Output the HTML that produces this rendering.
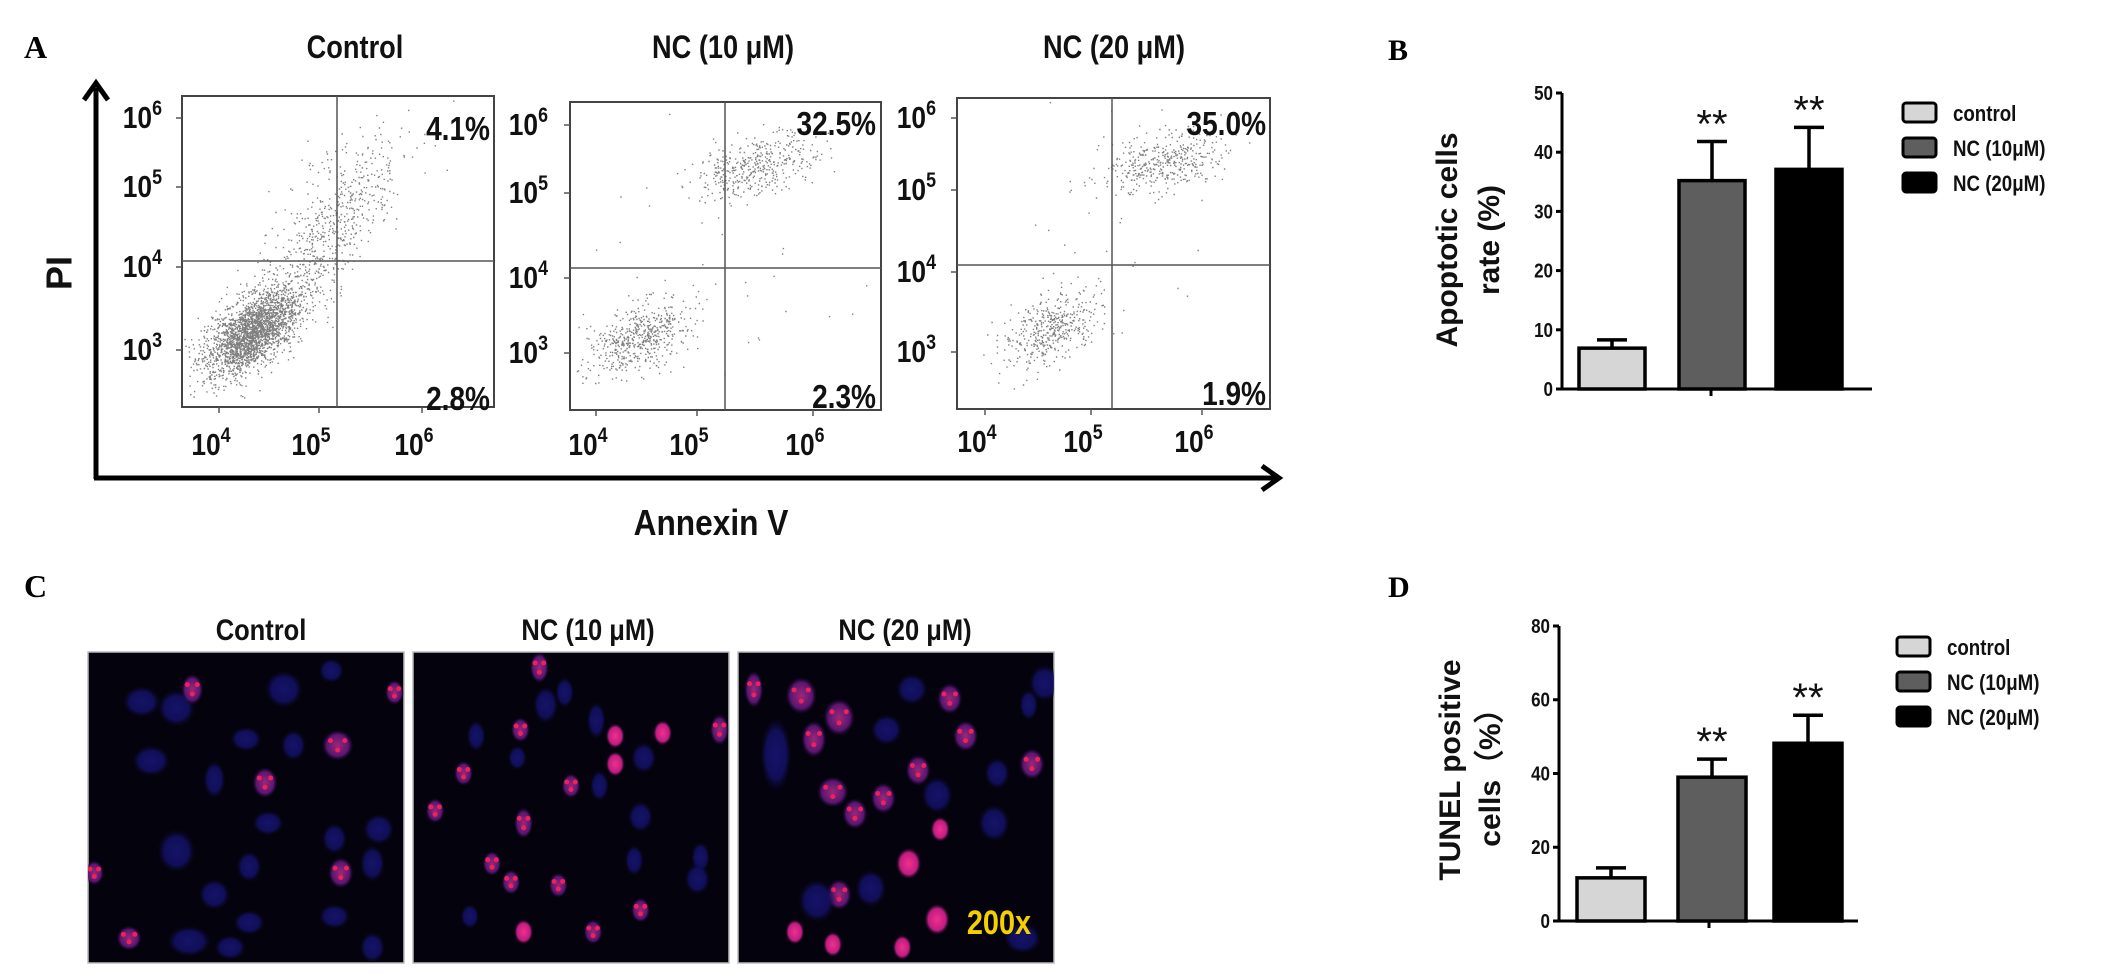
<!DOCTYPE html>
<html><head><meta charset="utf-8"><style>
html,body{margin:0;padding:0;background:#fff;}
svg{display:block;}
.t{font-family:"Liberation Sans",Arial,sans-serif;font-weight:bold;fill:#111;}
.s{font-family:"Liberation Serif",serif;font-weight:bold;fill:#000;}
</style></head><body>
<svg id="fig" width="2126" height="977" viewBox="0 0 2126 977" xmlns="http://www.w3.org/2000/svg">
<defs>
<radialGradient id="gb"><stop offset="0" stop-color="#19167a"/><stop offset="0.65" stop-color="#131165"/><stop offset="1" stop-color="#0a0830" stop-opacity="0"/></radialGradient>
<radialGradient id="gp"><stop offset="0" stop-color="#9a2878"/><stop offset="0.7" stop-color="#5a1670"/><stop offset="1" stop-color="#200840" stop-opacity="0"/></radialGradient>
<radialGradient id="gh"><stop offset="0" stop-color="#f0308e"/><stop offset="0.7" stop-color="#c01c80"/><stop offset="1" stop-color="#401048" stop-opacity="0"/></radialGradient>
</defs>
<g id="panelA">
<text class="s" x="24" y="58" font-size="32">A</text>
<line x1="96" y1="88" x2="96" y2="479" stroke="#000" stroke-width="5"/>
<path d="M84 100 L96 83 L108 100" fill="none" stroke="#000" stroke-width="5"/>
<line x1="94" y1="478" x2="1275" y2="478" stroke="#000" stroke-width="5"/>
<path d="M1262 466 L1279 478 L1262 490" fill="none" stroke="#000" stroke-width="5"/>
<text class="t" x="62" y="273" font-size="36" text-anchor="middle" transform="rotate(-90 62 273)" dominant-baseline="middle">PI</text>
<text class="t" x="711" y="535" font-size="36" text-anchor="middle" transform="translate(711 0) scale(0.88 1) translate(-711 0)">Annexin V</text>
<g id="flows"></g>
</g>
<g id="panelB">
<text class="s" x="1388" y="60" font-size="30">B</text>
</g>
<g id="panelC">
<text class="s" x="24" y="597" font-size="32">C</text>
</g>
<g id="panelD">
<text class="s" x="1388" y="597" font-size="30">D</text>
</g>
</svg>
<script>
// ---- Chart B data ----
const bGroups = ["control","NC (10\u03bcM)","NC (20\u03bcM)"];
const bValues = [6.9, 35.2, 37.1];
const bErrors = [1.4, 6.6, 7.1];
const bTicks = [0,10,20,30,40,50];
// ---- Chart D data ----
const dGroups = ["control","NC (10\u03bcM)","NC (20\u03bcM)"];
const dValues = [11.7, 39.0, 48.2];
const dErrors = [2.7, 4.9, 7.6];
const dTicks = [0,20,40,60,80];
// ---- Flow cytometry quadrant percentages ----
const flowTitles = ["Control","NC (10 \u03bcM)","NC (20 \u03bcM)"];
const flowUpperRight = ["4.1%","32.5%","35.0%"];
const flowLowerRight = ["2.8%","2.3%","1.9%"];
const flowTickLabels = ["4","5","6"];
const flowYTickLabels = ["6","5","4","3"];
const fillColors = ["#d6d6d6","#5e5e5e","#000000"];

const NS="http://www.w3.org/2000/svg";
function mk(tag,attrs,parent){const e=document.createElementNS(NS,tag);for(const k in attrs)e.setAttribute(k,attrs[k]);parent.appendChild(e);return e;}
function narrow(e,x,f){e.setAttribute('transform',`translate(${x} 0) scale(${f} 1) translate(${-x} 0)`);}

// ---- Flow plots ----
const flows=document.getElementById('flows');
const flowGeo=[
 {x0:182,x1:494,y0:96,y1:407,qx:337,qy:261,tx:355,ylx:176,yt:[118,187,267,350],xt:[219,319,422],xly:455,ur:[490,140],lr:[490,410],
  cl:[[0.22,0.76,0.075,0.07,2300,0.6],[0.4,0.55,0.1,0.14,500,0.7],[0.55,0.3,0.1,0.1,250,0.4]]},
 {x0:570,x1:881,y0:102,y1:410,qx:725,qy:268,tx:723,ylx:562,yt:[125,193,278,353],xt:[596,697,813],xly:455,ur:[876,135],lr:[876,408],
  cl:[[0.22,0.76,0.08,0.06,550,0.5],[0.6,0.21,0.1,0.05,420,0.4],[0.4,0.5,0.25,0.25,40,0]]},
 {x0:957,x1:1270,y0:98,y1:409,qx:1112,qy:265,tx:1114,ylx:950,yt:[118,190,272,352],xt:[985,1091,1202],xly:452,ur:[1266,135],lr:[1266,405],
  cl:[[0.3,0.74,0.08,0.06,450,0.5],[0.66,0.2,0.1,0.05,420,0.4],[0.5,0.45,0.25,0.25,30,0]]}
];
let seed=12345;function rnd(){seed=(seed*1103515245+12345)&0x7fffffff;return seed/0x7fffffff;}
function gauss(){let u=rnd()||1e-6,v=rnd();return Math.sqrt(-2*Math.log(u))*Math.cos(2*Math.PI*v);}
flowGeo.forEach((g,i)=>{
  const grp=mk('g',{},flows);
  
  
  const w=g.x1-g.x0,h=g.y1-g.y0;
  let d="";
  g.cl.forEach(c=>{for(let k=0;k<c[4];k++){const a=gauss(),b=gauss();const px=g.x0+w*(c[0]+c[2]*a);const py=g.y0+h*(c[1]+c[3]*(c[5]*(-a)+Math.sqrt(1-c[5]*c[5])*b));
    if(px>g.x0+2&&px<g.x1-2&&py>g.y0+2&&py<g.y1-2)d+="M"+px.toFixed(1)+" "+py.toFixed(1)+"h1.4v1.4h-1.4z";}});
  const dots=mk('path',{d:d,fill:'#000','fill-opacity':'0.5'},grp);
  
  
  const box=mk('rect',{x:g.x0,y:g.y0,width:w,height:h,fill:'none',stroke:'#444','stroke-width':2},grp);
  
  
  const ql=mk('path',{d:`M${g.qx} ${g.y0}V${g.y1}M${g.x0} ${g.qy}H${g.x1}`,stroke:'#555','stroke-width':1.5,fill:'none'},grp);
  
  
  const ti=mk('text',{x:g.tx,y:58,'font-size':32,'text-anchor':'middle',class:'t'},grp);ti.textContent=flowTitles[i];narrow(ti,g.tx,0.85);
  
  
  g.yt.forEach((y,j)=>{const t=mk('text',{x:g.ylx-14,y:y+10,'font-size':31,'text-anchor':'end',class:'t'},grp);t.innerHTML='10<tspan dy="-13" font-size="21">'+flowYTickLabels[j]+'</tspan>';narrow(t,g.ylx-14,0.85);
    
    
    mk('line',{x1:g.x0-6,x2:g.x0,y1:y,y2:y,stroke:'#555','stroke-width':1.5},grp);});
  g.xt.forEach((x,j)=>{const t=mk('text',{x:x-8,y:g.xly,'font-size':31,'text-anchor':'middle',class:'t'},grp);t.innerHTML='10<tspan dy="-13" font-size="21">'+flowTickLabels[j]+'</tspan>';narrow(t,x-8,0.85);
    
    
    mk('line',{x1:x,x2:x,y1:g.y1,y2:g.y1+6,stroke:'#555','stroke-width':1.5},grp);});
  const u=mk('text',{x:g.ur[0],y:g.ur[1],'font-size':33,'text-anchor':'end',class:'t'},grp);u.textContent=flowUpperRight[i];narrow(u,g.ur[0],0.85);
  
  
  const l=mk('text',{x:g.lr[0],y:g.lr[1],'font-size':33,'text-anchor':'end',class:'t'},grp);l.textContent=flowLowerRight[i];narrow(l,g.lr[0],0.85);
  
  
});

// ---- Bar charts ----
function barChart(parentId,groups,vals,errs,ticks,geo,titleLines,prefix){
  const p=document.getElementById(parentId);
  const maxT=ticks[ticks.length-1];
  const yS=v=>geo.y0-(v/maxT)*(geo.y0-geo.yTop);
  const ax=mk('path',{d:`M${geo.ax} ${yS(maxT)}V${geo.y0}H${geo.xEnd}M${geo.tickX} ${geo.y0}v7`,stroke:'#000','stroke-width':3,fill:'none'},p);
  
  
  ticks.forEach(t=>{mk('line',{x1:geo.ax-6,x2:geo.ax,y1:yS(t),y2:yS(t),stroke:'#000','stroke-width':3},p);
    const tl=mk('text',{x:geo.ax-9,y:yS(t)+7,'font-size':20,'text-anchor':'end',class:'t'},p);tl.textContent=t;narrow(tl,geo.ax-9,0.85);
    
    });
  vals.forEach((v,i)=>{const x=geo.bx[i];
    const eb=mk('path',{d:`M${x+geo.bw/2} ${yS(v)}V${yS(v+errs[i])}M${x+geo.bw/2-15} ${yS(v+errs[i])}h30`,stroke:'#000','stroke-width':3.5,fill:'none'},p);
    
    
    const r=mk('rect',{x:x,y:yS(v),width:geo.bw,height:geo.y0-yS(v),fill:fillColors[i],stroke:'#000','stroke-width':3.5},p);
    
    
    if(i>0){const s=mk('text',{x:x+geo.bw/2,y:yS(v+errs[i])-4,'font-size':40,'text-anchor':'middle',class:'t','font-weight':'normal',style:'font-weight:normal'},p);s.textContent='**';
      
      }
    const lb=mk('rect',{x:geo.lx,y:geo.ly+i*geo.lstep,width:33,height:19,rx:3,fill:fillColors[i],stroke:'#000','stroke-width':3},p);
    
    
    const lt=mk('text',{x:geo.lx+50,y:geo.ly+i*geo.lstep+18,'font-size':22,class:'t'},p);lt.textContent=groups[i];narrow(lt,geo.lx+50,0.85);
    
    });
  titleLines.forEach((tl,k)=>{const cx=geo.titleX+k*geo.titleGap;
    const t=mk('text',{x:cx,y:geo.titleY,'font-size':30,'text-anchor':'middle',class:'t',transform:`rotate(-90 ${cx} ${geo.titleY})`},p);t.textContent=tl;
    
    });
}
barChart('panelB',bGroups,bValues,bErrors,bTicks,{ax:1562,y0:389,yTop:93,xEnd:1872,tickX:1711,bx:[1579,1679,1776],bw:66,lx:1903,ly:103,lstep:35,titleX:1457,titleGap:42,titleY:240},['Apoptotic cells','rate (%)'],'b');
barChart('panelD',dGroups,dValues,dErrors,dTicks,{ax:1559,y0:921,yTop:626,xEnd:1858,tickX:1709,bx:[1577,1678,1774],bw:68,lx:1897,ly:637,lstep:35,titleX:1460,titleGap:40,titleY:770},['TUNEL positive','cells\uff08%\uff09'],'d');

// ---- Fluorescence images ----
const imgs=[{x:88,w:316,t:'Control',tx:261},{x:413,w:316,t:'NC (10 \u03bcM)',tx:588},{x:738,w:316,t:'NC (20 \u03bcM)',tx:905}];
// cells: [fx, fy, rx, ry, type] type 0 blue,1 pink speckled,2 bright
const cells=[
 [[.17,.16,.06,.05,0],[.28,.18,.06,.06,0],[.33,.12,.035,.05,1],[.62,.12,.06,.06,0],[.77,.06,.04,.04,0],[.79,.3,.05,.05,1],[.5,.28,.05,.04,0],[.65,.3,.04,.05,0],[.2,.35,.06,.05,0],[.4,.41,.035,.06,0],[.56,.42,.04,.05,1],[.57,.55,.05,.04,0],[.28,.64,.06,.07,0],[.78,.6,.04,.05,0],[.92,.57,.05,.05,0],[.8,.71,.04,.05,1],[.9,.68,.04,.06,0],[.51,.69,.04,.05,0],[.4,.78,.05,.05,0],[.78,.85,.05,.04,0],[.32,.93,.07,.05,0],[.51,.87,.05,.04,0],[.13,.92,.04,.04,1],[.02,.71,.03,.04,1],[.97,.13,.03,.04,1],[.45,.95,.05,.04,0],[.9,.95,.04,.05,0]],
 [[.4,.05,.03,.05,1],[.48,.13,.03,.05,0],[.42,.17,.04,.06,0],[.34,.25,.03,.04,1],[.58,.22,.03,.06,0],[.2,.27,.03,.05,0],[.64,.27,.03,.04,2],[.79,.26,.03,.04,2],[.97,.25,.03,.05,1],[.64,.36,.03,.04,2],[.73,.34,.04,.05,0],[.33,.34,.03,.04,0],[.16,.39,.03,.04,1],[.5,.43,.03,.04,1],[.59,.43,.03,.05,0],[.07,.51,.03,.04,1],[.35,.55,.03,.05,1],[.72,.53,.04,.05,0],[.25,.68,.03,.04,1],[.7,.67,.03,.05,0],[.91,.66,.03,.05,0],[.31,.74,.03,.04,1],[.46,.75,.03,.04,1],[.18,.85,.03,.04,0],[.35,.9,.03,.04,2],[.57,.9,.03,.04,1],[.72,.83,.03,.04,1],[.9,.73,.04,.05,0]],
 [[.05,.12,.03,.06,1],[.2,.14,.05,.06,1],[.32,.21,.05,.06,1],[.24,.28,.04,.06,1],[.55,.12,.05,.05,0],[.67,.15,.04,.05,1],[.97,.1,.05,.06,0],[.92,.17,.03,.05,0],[.47,.25,.05,.05,0],[.12,.33,.05,.12,0],[.72,.27,.04,.05,1],[.57,.38,.04,.05,1],[.93,.36,.04,.05,1],[.3,.45,.05,.05,1],[.46,.47,.04,.05,1],[.63,.46,.05,.06,0],[.82,.39,.04,.05,0],[.37,.52,.04,.05,1],[.64,.57,.03,.04,2],[.81,.55,.05,.06,0],[.54,.68,.04,.05,2],[.42,.76,.05,.06,0],[.32,.78,.04,.05,1],[.18,.9,.03,.04,2],[.3,.94,.03,.04,2],[.52,.95,.03,.04,2],[.63,.86,.04,.05,2],[.25,.8,.06,.07,0],[.9,.92,.06,.05,0]]
];
const cg=document.getElementById('panelC');
imgs.forEach((im,i)=>{
  const t=mk('text',{x:im.tx,y:640,'font-size':30,'text-anchor':'middle',class:'t'},cg);t.textContent=im.t;narrow(t,im.tx,0.85);
  
  
  const g=mk('g',{},cg);
  
  
  const h=311,y0=652;
  mk('rect',{x:im.x,y:y0,width:im.w,height:h,fill:'#04020c',stroke:'#bbb','stroke-width':1.5},g);
  const cp=mk('clipPath',{id:'cp'+i},g);
  mk('rect',{x:im.x,y:y0,width:im.w,height:h},cp);
  const inner=mk('g',{'clip-path':`url(#cp${i})`},g);
  cells[i].forEach(c=>{const cx=im.x+c[0]*im.w,cy=y0+c[1]*h;
    mk('ellipse',{cx:cx,cy:cy,rx:c[2]*im.w,ry:c[3]*h,fill:c[4]==0?'url(#gb)':c[4]==1?'url(#gp)':'url(#gh)',opacity:c[4]==0?0.85:1},inner);
    if(c[4]==1){for(let k=0;k<3;k++)mk('circle',{cx:cx+(k-1)*c[2]*im.w*0.45,cy:cy+((k%2)*2-1)*c[3]*h*0.3,r:2.5,fill:'#f0205a'},inner);}
  });
  if(i==2){const z=mk('text',{x:999,y:934,'font-size':34,'text-anchor':'middle',class:'t',style:'fill:#f4d000'},g);z.textContent='200x';narrow(z,999,0.85);
    
    }
});
</script>
</body></html>
